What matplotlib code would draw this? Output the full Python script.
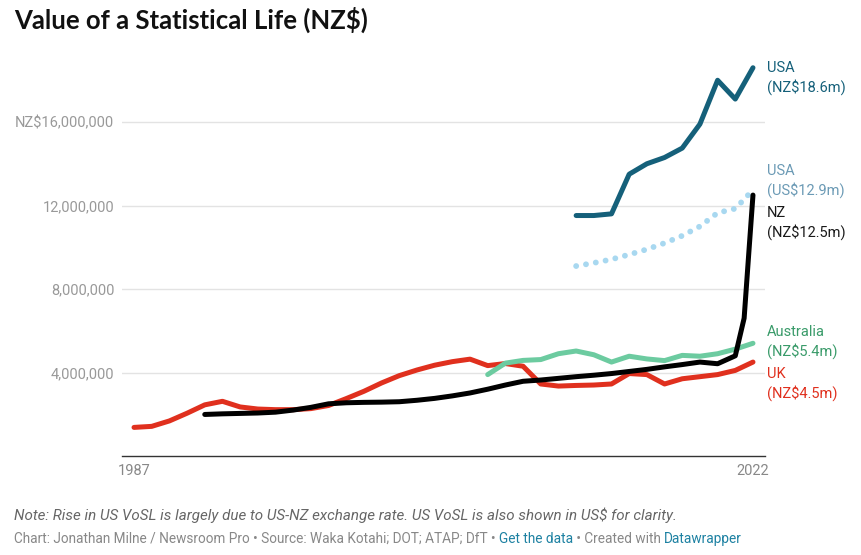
import numpy as np
import matplotlib
matplotlib.use("Agg")
import matplotlib.pyplot as plt

plt.rcParams['font.family'] = ['Roboto', 'DejaVu Sans']

# values in NZ$ millions
uk_years = list(range(1987, 2023))
uk_vals = [1.37, 1.42, 1.68, 2.05, 2.45, 2.62, 2.35, 2.25, 2.22, 2.22,
           2.27, 2.42, 2.75, 3.10, 3.50, 3.85, 4.12, 4.35, 4.52, 4.64,
           4.33, 4.43, 4.30, 3.45, 3.35, 3.38, 3.40, 3.45, 3.95, 3.90,
           3.45, 3.70, 3.80, 3.90, 4.10, 4.50]

nz_years = list(range(1991, 2022)) + [2021.5, 2021.77, 2022]
nz_vals = [1.99, 2.02, 2.04, 2.06, 2.10, 2.20, 2.33, 2.50, 2.55, 2.57,
           2.58, 2.60, 2.67, 2.76, 2.88, 3.02, 3.20, 3.40, 3.58, 3.64,
           3.72, 3.80, 3.87, 3.95, 4.05, 4.15, 4.27, 4.38, 4.50, 4.42,
           4.80, 6.60, 9.80, 12.50]

aus_years = list(range(2007, 2023))
aus_vals = [3.90, 4.45, 4.58, 4.62, 4.90, 5.03, 4.85, 4.50, 4.78, 4.65,
            4.57, 4.82, 4.78, 4.90, 5.12, 5.40]

usa_years = list(range(2012, 2023))
usa_nz_vals = [11.52, 11.52, 11.60, 13.50, 14.00, 14.30, 14.75, 15.90, 18.00, 17.10, 18.60]
usa_us_vals = [9.10, 9.25, 9.42, 9.65, 9.90, 10.20, 10.55, 11.00, 11.65, 11.85, 12.75]

yticks = [4, 8, 12, 16]
ytick_labels = ["4,000,000", "8,000,000", "12,000,000", "NZ$16,000,000"]

W, H = 862, 555
fig = plt.figure(figsize=(W / 100, H / 100), dpi=100)
ax = fig.add_axes([122 / W, (H - 456) / H, 643 / W, 406 / H])

ax.set_xlim(1986.32, 2022.68)
ax.set_ylim(0, 19.45)

def line(x, y, color, **kw):
    ax.plot(x, np.array(y), color=color, lw=3.6, solid_capstyle='round',
            solid_joinstyle='round', clip_on=False, **kw)

line(uk_years, uk_vals, '#e0301e', zorder=3)
line(aus_years, aus_vals, '#6ccba0', zorder=3)
line(nz_years, nz_vals, '#000000', zorder=4)
line(usa_years, usa_nz_vals, '#15607a', zorder=4)
ax.plot(usa_years, usa_us_vals, color='#a8d8f0', lw=4.2, linestyle=(0, (0.01, 1.7)),
        dash_capstyle='round', clip_on=False, zorder=3)

ax.set_yticks(yticks)
ax.set_yticklabels(ytick_labels)
ax.set_xticks([1987, 2022])
ax.set_xticklabels(["1987", "2022"])
ax.tick_params(axis='y', length=0, pad=5.5, labelsize=10.5, labelcolor='#999999')
ax.tick_params(axis='x', length=0, pad=6, labelsize=10.5, labelcolor='#888888')
ax.grid(axis='y', color='#e3e3e3', lw=1)
ax.set_axisbelow(True)
for s in ['top', 'right', 'left']:
    ax.spines[s].set_visible(False)
ax.spines['bottom'].set_color('#333333')
ax.spines['bottom'].set_linewidth(1)

# direct labels on the right
labels = [
    ("USA\n(NZ$18.6m)", 78, '#15607a'),
    ("USA\n(US$12.9m)", 181, '#6b9ab5'),
    ("NZ\n(NZ$12.5m)", 223, '#1a1a1a'),
    ("Australia\n(NZ$5.4m)", 342, '#3a9b6a'),
    ("UK\n(NZ$4.5m)", 384, '#e0301e'),
]
for txt, ypx, col in labels:
    fig.text(767 / W, 1 - ypx / H, txt, color=col, fontsize=10.5,
             ha='left', va='center', linespacing=1.3)

fig.text(14 / W, 1 - 20 / H, "Value of a Statistical Life (NZ$)", fontsize=18.5,
         fontweight='bold', family=['Lato', 'DejaVu Sans'], color='#111111',
         ha='left', va='center')

fig.text(14 / W, 1 - 515 / H,
         "Note: Rise in US VoSL is largely due to US-NZ exchange rate. US VoSL is also shown in US$ for clarity.",
         fontsize=10.9, style='italic', color='#666666', ha='left', va='center')

parts = [("Chart: Jonathan Milne / Newsroom Pro \u2022 Source: Waka Kotahi; DOT; ATAP; DfT \u2022 ", '#888888'),
         ("Get the data", '#1d81a2'),
         (" \u2022 Created with ", '#888888'),
         ("Datawrapper", '#1d81a2')]
fig.canvas.draw()
r = fig.canvas.get_renderer()
xpx = 14
for s, col in parts:
    t = fig.text(xpx / W, 1 - 539 / H, s, fontsize=9.85, color=col, ha='left', va='center')
    xpx += t.get_window_extent(renderer=r).width

fig.savefig("out.png", dpi=100)
